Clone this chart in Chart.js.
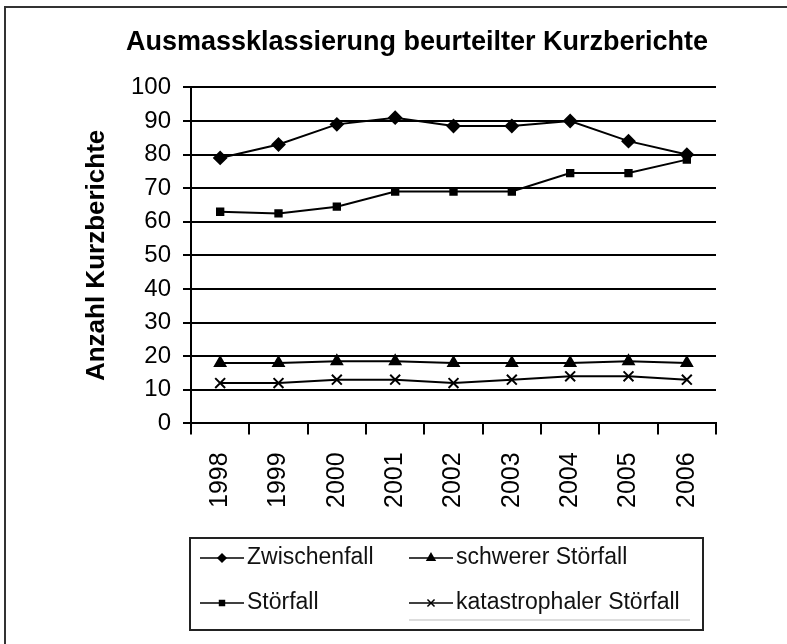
<!DOCTYPE html>
<html>
<head>
<meta charset="utf-8">
<script src="https://cdn.jsdelivr.net/npm/chart.js@4"></script>
<style>
  html, body { margin: 0; padding: 0; background: #fff; }
  #wrap { width: 787px; height: 644px; }
</style>
</head>
<body>
<div id="wrap"><canvas id="chart" width="787" height="644"></canvas></div>
<script>
// Data
const years = ['1998', '1999', '2000', '2001', '2002', '2003', '2004', '2005', '2006'];
const zwischenfall = [79, 83, 89, 91, 88.5, 88.5, 90, 84, 80];
const stoerfall = [63, 62.5, 64.5, 69, 69, 69, 74.5, 74.5, 78.5];
const schwererStoerfall = [18, 18, 18.5, 18.5, 18, 18, 18, 18.5, 18];
const katastrophalerStoerfall = [12, 12, 13, 13, 12, 13, 14, 14, 13];
const seriesNames = ['Zwischenfall', 'Störfall', 'schwerer Störfall', 'katastrophaler Störfall'];
const yMin = 0, yMax = 100, yStep = 10;

const FONT = 'Arial, "Liberation Sans", sans-serif';

function series(label, data, style, radius) {
  return {
    label: label,
    data: data,
    borderColor: '#000',
    borderWidth: 2,
    backgroundColor: '#000',
    pointStyle: style,
    pointRadius: radius,
    pointBackgroundColor: '#000',
    pointBorderColor: '#000',
    pointBorderWidth: 2,
    tension: 0,
    fill: false
  };
}

// legend in two columns inside a box, plus the cropped outer frame
const legendBox = {
  id: 'legendBox',
  afterDraw(chart) {
    const ctx = chart.ctx;
    const area = chart.chartArea;
    ctx.save();

    // outer frame (only top and left visible)
    ctx.strokeStyle = '#333';
    ctx.lineWidth = 2;
    ctx.beginPath();
    ctx.moveTo(chart.width, 7);
    ctx.lineTo(5, 7);
    ctx.lineTo(5, chart.height);
    ctx.stroke();

    const left = area.left - 1, right = 703, top = chart.height - 106, bottom = chart.height - 14;
    ctx.strokeStyle = '#222';
    ctx.lineWidth = 2;
    ctx.strokeRect(left, top, right - left, bottom - top);

    const cols = [left + 10, left + 219];
    const rows = [top + 20, top + 65];
    const markR = [4, 3.5, 4.5, 5];
    ctx.font = '23px ' + FONT;
    ctx.textBaseline = 'middle';
    chart.data.datasets.forEach((ds, i) => {
      const x = cols[Math.floor(i / 2)];
      const y = rows[i % 2];
      ctx.strokeStyle = '#000';
      ctx.lineWidth = 1.5;
      ctx.beginPath();
      ctx.moveTo(x, y);
      ctx.lineTo(x + 44, y);
      ctx.stroke();
      ctx.fillStyle = '#000';
      Chart.helpers.drawPoint(ctx, {
        pointStyle: ds.pointStyle, radius: markR[i], rotation: 0, borderWidth: 1.5
      }, x + 22, y);
      ctx.fillStyle = '#111';
      ctx.fillText(ds.label, x + 47, y);
    });

    // faint line under the last entry
    ctx.strokeStyle = '#bbb';
    ctx.lineWidth = 1;
    ctx.beginPath();
    ctx.moveTo(cols[1], rows[1] + 17);
    ctx.lineTo(690, rows[1] + 17);
    ctx.stroke();
    ctx.restore();
  }
};

new Chart(document.getElementById('chart'), {
  type: 'line',
  data: {
    labels: years,
    datasets: [
      series(seriesNames[0], zwischenfall, 'rectRot', 6),
      series(seriesNames[1], stoerfall, 'rect', 4.5),
      series(seriesNames[2], schwererStoerfall, 'triangle', 6),
      series(seriesNames[3], katastrophalerStoerfall, 'crossRot', 7)
    ]
  },
  options: {
    responsive: false,
    animation: false,
    layout: { padding: { left: 118, right: 71, top: 0, bottom: 118 } },
    plugins: {
      legend: { display: false },
      tooltip: { enabled: false },
      title: {
        display: true,
        text: 'Ausmassklassierung beurteilter Kurzberichte',
        color: '#000',
        font: { family: FONT, size: 27, weight: 'bold' },
        padding: { top: 26, bottom: 29 }
      }
    },
    scales: {
      x: {
        offset: true,
        grid: { offset: true, drawOnChartArea: false, drawTicks: true, tickLength: 11, color: '#000', lineWidth: 2 },
        border: { color: '#000', width: 2 },
        ticks: {
          color: '#000',
          font: { family: FONT, size: 25 },
          minRotation: 90,
          maxRotation: 90,
          padding: 18
        }
      },
      y: {
        min: yMin,
        max: yMax,
        afterFit(scale) { scale.width = 73; },
        grid: { color: '#000', lineWidth: 2, drawTicks: true, tickLength: 8 },
        border: { color: '#000', width: 2 },
        ticks: {
          stepSize: yStep,
          color: '#000',
          font: { family: FONT, size: 24 },
          padding: 12
        },
        title: {
          display: true,
          text: 'Anzahl Kurzberichte',
          color: '#000',
          font: { family: FONT, size: 26, weight: 'bold' },
          padding: { top: -37, bottom: 0 }
        }
      }
    }
  },
  plugins: [legendBox]
});
</script>
</body>
</html>
